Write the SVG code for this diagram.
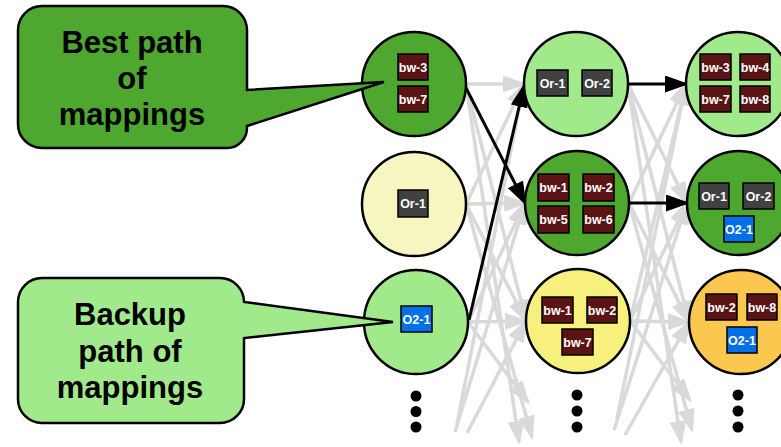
<svg xmlns="http://www.w3.org/2000/svg" width="781" height="447" viewBox="0 0 781 447">
  <defs>
    <marker id="ah-gray" markerUnits="userSpaceOnUse" viewBox="0 0 24 17" markerWidth="24" markerHeight="17" refX="21" refY="8.5" orient="auto">
      <path d="M0,0 L24,8.5 L0,17 Z" fill="#d9d9d9"/>
    </marker>
    <marker id="ah-black" markerUnits="userSpaceOnUse" viewBox="0 0 24 17" markerWidth="24" markerHeight="17" refX="21" refY="8.5" orient="auto">
      <path d="M0,0 L24,8.5 L0,17 Z" fill="#000"/>
    </marker>
  </defs>
  <style>
    .state { stroke: #000; stroke-width: 2.5; }
    .dkgreen { fill: #4ea72e; }
    .ltgreen { fill: #a0ea8c; }
    .pale { fill: #f7f6c1; }
    .yellow { fill: #f8f07c; }
    .orange { fill: #fcc74e; }
    .bw { fill: #5a1414; stroke: #000; stroke-width: 1.5; }
    .or { fill: #414141; stroke: #000; stroke-width: 1.5; }
    .o2 { fill: #0070e8; stroke: #000; stroke-width: 1.5; }
    .lbl { font-family: "Liberation Sans", Arial, sans-serif; font-weight: bold; font-size: 12.5px; fill: #fff; text-anchor: middle; }
    .gray { stroke: #d9d9d9; stroke-width: 3.5; fill: none; marker-end: url(#ah-gray); }
    .black { stroke: #000; stroke-width: 3; fill: none; marker-end: url(#ah-black); }
    .callout { stroke: #000; stroke-width: 2.5; }
    .ctext { font-family: "Liberation Sans", Arial, sans-serif; font-weight: bold; font-size: 31px; fill: #000; text-anchor: middle; }
  </style>

  <rect width="781" height="447" fill="#fff"/>

  <!-- transitions between columns -->
  <g id="connectors">
    <!-- column 1 to column 2 -->
    <line class="gray" x1="466" y1="84" x2="524" y2="84"/>
    <line class="gray" x1="466" y1="84" x2="526" y2="321"/>
    <line class="gray" x1="466" y1="204" x2="524" y2="84"/>
    <line class="gray" x1="466" y1="204" x2="525" y2="203"/>
    <line class="gray" x1="466" y1="204" x2="526" y2="321"/>
    <line class="gray" x1="468" y1="322" x2="525" y2="203"/>
    <line class="gray" x1="468" y1="322" x2="526" y2="321"/>
    <line class="gray" x1="466" y1="84" x2="519" y2="442"/>
    <line class="gray" x1="466" y1="204" x2="532" y2="437"/>
    <line class="gray" x1="468" y1="322" x2="528" y2="402"/>
    <line class="gray" x1="457" y1="424" x2="524" y2="84"/>
    <line class="gray" x1="455" y1="432" x2="525" y2="203"/>
    <line class="gray" x1="467" y1="433" x2="526" y2="321"/>
    <!-- column 2 to column 3 -->
    <line class="gray" x1="628" y1="84" x2="687" y2="203"/>
    <line class="gray" x1="628" y1="84" x2="689" y2="322"/>
    <line class="gray" x1="629" y1="203" x2="686" y2="84"/>
    <line class="gray" x1="629" y1="203" x2="689" y2="322"/>
    <line class="gray" x1="630" y1="321" x2="686" y2="84"/>
    <line class="gray" x1="630" y1="321" x2="687" y2="203"/>
    <line class="gray" x1="630" y1="321" x2="689" y2="322"/>
    <line class="gray" x1="628" y1="84" x2="681" y2="442"/>
    <line class="gray" x1="629" y1="203" x2="692" y2="430"/>
    <line class="gray" x1="630" y1="321" x2="690" y2="400"/>
    <line class="gray" x1="617" y1="418" x2="686" y2="84"/>
    <line class="gray" x1="614" y1="430" x2="687" y2="203"/>
    <line class="gray" x1="625" y1="435" x2="689" y2="322"/>
    <!-- highlighted paths -->
    <line class="black" x1="465" y1="86" x2="525" y2="203"/>
    <line class="black" x1="469" y1="320" x2="524" y2="86"/>
    <line class="black" x1="628" y1="84" x2="686" y2="84"/>
    <line class="black" x1="629" y1="203" x2="687" y2="203"/>
  </g>

  <!-- column 1 -->
  <g id="n-a1">
    <circle class="state dkgreen" cx="414" cy="84" r="52"/>
    <rect class="bw" x="398" y="54" width="30" height="26"/>
    <text class="lbl" x="413" y="71.5">bw-3</text>
    <rect class="bw" x="398" y="86" width="30" height="26"/>
    <text class="lbl" x="413" y="103.5">bw-7</text>
  </g>
  <g id="n-a2">
    <circle class="state pale" cx="414" cy="204" r="52"/>
    <rect class="or" x="398" y="190" width="30" height="27"/>
    <text class="lbl" x="413" y="208">Or-1</text>
  </g>
  <g id="n-a3">
    <circle class="state ltgreen" cx="416" cy="322" r="52"/>
    <rect class="o2" x="401" y="306" width="31" height="26"/>
    <text class="lbl" x="416.5" y="323.5">O2-1</text>
  </g>
  <g id="n-a-more">
    <circle cx="416" cy="396" r="5.5"/>
    <circle cx="416" cy="411.5" r="5.5"/>
    <circle cx="416" cy="427" r="5.5"/>
  </g>

  <!-- column 2 -->
  <g id="n-b1">
    <circle class="state ltgreen" cx="576" cy="84" r="52"/>
    <rect class="or" x="537" y="70" width="31" height="26"/>
    <text class="lbl" x="552.5" y="87.5">Or-1</text>
    <rect class="or" x="582" y="70" width="30" height="26"/>
    <text class="lbl" x="597" y="87.5">Or-2</text>
  </g>
  <g id="n-b2">
    <circle class="state dkgreen" cx="577" cy="203" r="52"/>
    <rect class="bw" x="538" y="174" width="31" height="27"/>
    <text class="lbl" x="553.5" y="192">bw-1</text>
    <rect class="bw" x="583" y="174" width="31" height="27"/>
    <text class="lbl" x="598.5" y="192">bw-2</text>
    <rect class="bw" x="538" y="206" width="31" height="27"/>
    <text class="lbl" x="553.5" y="224">bw-5</text>
    <rect class="bw" x="583" y="206" width="31" height="27"/>
    <text class="lbl" x="598.5" y="224">bw-6</text>
  </g>
  <g id="n-b3">
    <circle class="state yellow" cx="578" cy="321" r="52"/>
    <rect class="bw" x="542" y="297" width="31" height="26"/>
    <text class="lbl" x="557.5" y="314.5">bw-1</text>
    <rect class="bw" x="587" y="297" width="30" height="26"/>
    <text class="lbl" x="602" y="314.5">bw-2</text>
    <rect class="bw" x="562" y="329" width="31" height="26"/>
    <text class="lbl" x="577.5" y="346.5">bw-7</text>
  </g>
  <g id="n-b-more">
    <circle cx="577" cy="395" r="5.5"/>
    <circle cx="577" cy="411" r="5.5"/>
    <circle cx="577" cy="427" r="5.5"/>
  </g>

  <!-- column 3 -->
  <g id="n-c1">
    <circle class="state ltgreen" cx="738" cy="84" r="52"/>
    <rect class="bw" x="700" y="54" width="31" height="26"/>
    <text class="lbl" x="715.5" y="71.5">bw-3</text>
    <rect class="bw" x="740" y="54" width="30" height="26"/>
    <text class="lbl" x="755" y="71.5">bw-4</text>
    <rect class="bw" x="700" y="86" width="31" height="26"/>
    <text class="lbl" x="715.5" y="103.5">bw-7</text>
    <rect class="bw" x="740" y="86" width="30" height="26"/>
    <text class="lbl" x="755" y="103.5">bw-8</text>
  </g>
  <g id="n-c2">
    <circle class="state dkgreen" cx="739" cy="203" r="52"/>
    <rect class="or" x="699" y="183" width="30" height="26"/>
    <text class="lbl" x="714" y="200.5">Or-1</text>
    <rect class="or" x="743" y="183" width="31" height="26"/>
    <text class="lbl" x="758.5" y="200.5">Or-2</text>
    <rect class="o2" x="724" y="216" width="30" height="26"/>
    <text class="lbl" x="739" y="233.5">O2-1</text>
  </g>
  <g id="n-c3">
    <circle class="state orange" cx="741" cy="322" r="52"/>
    <rect class="bw" x="706" y="294" width="31" height="26"/>
    <text class="lbl" x="721.5" y="311.5">bw-2</text>
    <rect class="bw" x="747" y="294" width="30" height="26"/>
    <text class="lbl" x="762" y="311.5">bw-8</text>
    <rect class="o2" x="727" y="327" width="30" height="26"/>
    <text class="lbl" x="742" y="344.5">O2-1</text>
  </g>
  <g id="n-c-more">
    <circle cx="738" cy="395" r="5.5"/>
    <circle cx="738" cy="411" r="5.5"/>
    <circle cx="738" cy="427" r="5.5"/>
  </g>

  <!-- callouts -->
  <g id="callout-best">
    <path class="callout dkgreen" d="M42,6 H223 A24,24 0 0 1 247,30 V90 L384,82 L247,126 V128 A20,20 0 0 1 227,148 H42 A24,24 0 0 1 18,124 V30 A24,24 0 0 1 42,6 Z"/>
    <text class="ctext" x="132" y="53">Best path</text>
    <text class="ctext" x="132" y="89">of</text>
    <text class="ctext" x="132" y="125">mappings</text>
  </g>
  <g id="callout-backup">
    <path class="callout ltgreen" d="M42,278 H220 A24,24 0 0 1 244,302 L393,322 L244,338 V399 A24,24 0 0 1 220,423 H42 A24,24 0 0 1 18,399 V302 A24,24 0 0 1 42,278 Z"/>
    <text class="ctext" x="130" y="325">Backup</text>
    <text class="ctext" x="130" y="362">path of</text>
    <text class="ctext" x="130" y="398">mappings</text>
  </g>
</svg>
